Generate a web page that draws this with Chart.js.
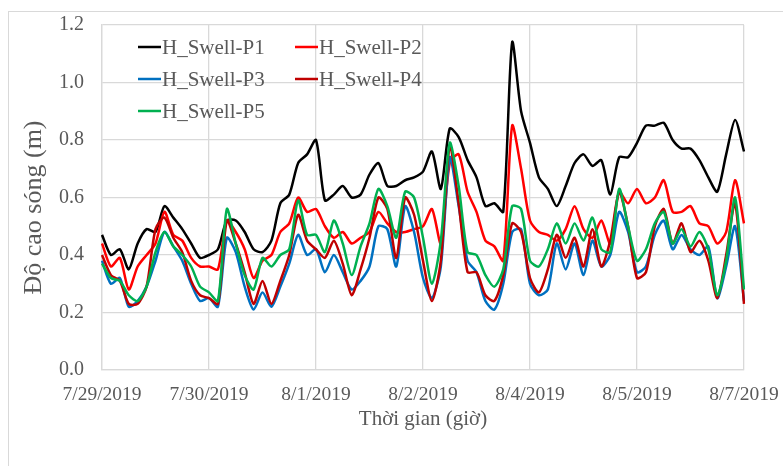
<!DOCTYPE html>
<html><head><meta charset="utf-8">
<script src="https://cdn.jsdelivr.net/npm/chart.js@4.4.1/dist/chart.umd.min.js"></script>
<style>html,body{margin:0;padding:0;background:#fff;}#wrap{position:relative;width:783px;height:466px;}</style>
</head><body><div id="wrap"><canvas id="c" width="783" height="466"></canvas></div>
<script>
// Hourly offsets from 7/29/2019 00:00, sampled every 3 hours
const hours = Array.from({length: 73}, (_, i) => i * 3);
const tickLabels = ['7/29/2019','7/30/2019','8/1/2019','8/2/2019','8/4/2019','8/5/2019','8/7/2019'];
const labelEvery = 12;
const seriesNames = ['H_Swell-P1','H_Swell-P2','H_Swell-P3','H_Swell-P4','H_Swell-P5'];
const seriesColors = ['#000000','#FF0000','#0070C0','#C00000','#00B050'];
const yTitle = 'Độ cao sóng (m)';
const xTitle = 'Thời gian (giờ)';

const P1 = [0.47,0.40,0.42,0.35,0.44,0.49,0.48,0.57,0.53,0.49,0.44,0.39,
 0.40,0.42,0.52,0.52,0.48,0.42,0.41,0.45,0.58,0.61,0.72,0.75,
 0.80,0.59,0.61,0.64,0.60,0.61,0.68,0.72,0.64,0.64,0.66,0.67,
 0.69,0.76,0.63,0.84,0.81,0.73,0.67,0.57,0.58,0.55,1.14,0.90,
 0.79,0.67,0.63,0.57,0.64,0.72,0.75,0.71,0.73,0.61,0.74,0.74,
 0.79,0.85,0.85,0.86,0.80,0.77,0.77,0.73,0.67,0.62,0.75,0.87,
 0.76];
const P2 = [0.44,0.36,0.39,0.28,0.36,0.40,0.44,0.55,0.47,0.45,0.39,0.36,
 0.36,0.35,0.52,0.48,0.42,0.32,0.38,0.40,0.48,0.51,0.60,0.55,
 0.56,0.50,0.46,0.48,0.44,0.46,0.48,0.55,0.51,0.48,0.48,0.49,
 0.50,0.56,0.44,0.72,0.75,0.62,0.55,0.45,0.43,0.38,0.85,0.70,
 0.52,0.48,0.47,0.45,0.49,0.57,0.49,0.46,0.52,0.44,0.62,0.58,
 0.63,0.58,0.60,0.66,0.55,0.55,0.57,0.51,0.50,0.44,0.48,0.66,
 0.51];
const P3 = [0.38,0.30,0.32,0.22,0.24,0.29,0.38,0.48,0.43,0.38,0.30,0.24,
 0.25,0.22,0.46,0.41,0.29,0.21,0.27,0.22,0.29,0.37,0.47,0.40,
 0.42,0.34,0.40,0.34,0.28,0.31,0.36,0.50,0.49,0.36,0.57,0.48,
 0.32,0.25,0.36,0.74,0.57,0.38,0.34,0.24,0.21,0.30,0.48,0.49,
 0.30,0.26,0.28,0.44,0.35,0.44,0.33,0.45,0.36,0.40,0.55,0.48,
 0.34,0.36,0.47,0.52,0.42,0.47,0.42,0.40,0.43,0.25,0.36,0.50,
 0.24];
const P4 = [0.40,0.33,0.31,0.23,0.23,0.29,0.49,0.53,0.46,0.41,0.31,0.26,
 0.25,0.23,0.52,0.44,0.34,0.23,0.31,0.23,0.31,0.40,0.54,0.45,
 0.42,0.39,0.45,0.37,0.26,0.35,0.46,0.60,0.56,0.39,0.60,0.54,
 0.38,0.24,0.38,0.78,0.58,0.34,0.34,0.26,0.24,0.33,0.51,0.48,
 0.32,0.27,0.35,0.47,0.39,0.46,0.36,0.49,0.36,0.45,0.62,0.50,
 0.32,0.34,0.50,0.56,0.44,0.51,0.41,0.45,0.38,0.25,0.40,0.58,
 0.23];
const P5 = [0.37,0.32,0.31,0.26,0.24,0.29,0.41,0.48,0.43,0.40,0.36,0.29,
 0.27,0.24,0.56,0.44,0.33,0.28,0.39,0.36,0.40,0.42,0.59,0.47,
 0.47,0.41,0.52,0.44,0.33,0.43,0.51,0.63,0.57,0.46,0.62,0.60,
 0.46,0.30,0.45,0.79,0.64,0.41,0.40,0.33,0.29,0.35,0.57,0.56,
 0.38,0.36,0.42,0.51,0.44,0.51,0.45,0.53,0.42,0.41,0.63,0.50,
 0.38,0.42,0.51,0.55,0.44,0.49,0.43,0.48,0.42,0.26,0.38,0.60,
 0.28];
const seriesData = [P1, P2, P3, P4, P5];

const FONT = 'Liberation Serif, Times New Roman, serif';
const TXT = '#595959';
const GRID = '#d9d9d9';

const frame = {
  id: 'frame',
  beforeDraw(chart) {
    const c = chart.ctx;
    c.save();
    c.fillStyle = '#fff';
    c.fillRect(0, 0, chart.width, chart.height);
    c.strokeStyle = GRID; c.lineWidth = 1;
    c.strokeRect(8.5, 11.5, 800, 500);
    c.restore();
  },
  afterDraw(chart) {
    const c = chart.ctx, a = chart.chartArea;
    c.save();
    c.translate(34, (a.top + a.bottom) / 2 + 10);
    c.rotate(-Math.PI / 2);
    c.font = '26px ' + FONT;
    c.fillStyle = TXT;
    c.textAlign = 'center';
    c.textBaseline = 'middle';
    c.fillText(yTitle, 0, 0);
    c.restore();
  }
};
const legendBox = {
  id: 'legendBox',
  afterDatasetsDraw(chart) {
    const c = chart.ctx;
    const cols = [138, 295], rows = [47, 79, 111];
    c.save();
    c.font = '21px ' + FONT;
    c.textBaseline = 'middle';
    c.textAlign = 'left';
    chart.data.datasets.forEach((ds, i) => {
      const x = cols[i % 2], y = rows[Math.floor(i / 2)];
      c.strokeStyle = ds.borderColor; c.lineWidth = 2.5;
      c.beginPath(); c.moveTo(x, y); c.lineTo(x + 23, y); c.stroke();
      c.fillStyle = TXT;
      c.fillText(ds.label, x + 24, y + 1);
    });
    c.restore();
  }
};

new Chart(document.getElementById('c'), {
  type: 'line',
  data: {
    labels: hours,
    datasets: seriesNames.map((n, i) => ({
      label: n, data: seriesData[i], borderColor: seriesColors[i], backgroundColor: seriesColors[i],
      borderWidth: 2.5, pointRadius: 0, tension: 0.25, fill: false, order: 4 - i
    }))
  },
  options: {
    responsive: false, animation: false, devicePixelRatio: 1,
    layout: { padding: { left: 0, right: 39, top: 25, bottom: 0 } },
    plugins: { legend: { display: false }, tooltip: { enabled: false } },
    scales: {
      x: {
        type: 'category', offset: false,
        grid: { color: GRID, lineWidth: 1.3, drawTicks: false },
        border: { color: GRID, width: 1.3 },
        ticks: {
          autoSkip: false, maxRotation: 0, minRotation: 0, padding: 13, color: TXT,
          font: { family: FONT, size: 19.5 },
          callback: (v, i) => (i % labelEvery === 0 ? tickLabels[i / labelEvery] : null)
        },
        title: { display: true, text: xTitle, color: TXT, font: { family: FONT, size: 21 }, padding: { top: 1, bottom: 34 } },
        afterFit: s => { s.height = 96; s.paddingLeft = 0; s.paddingRight = 0; }
      },
      y: {
        min: 0, max: 1.2,
        grid: { color: GRID, lineWidth: 1.3, drawTicks: false },
        border: { color: GRID, width: 1.3 },
        ticks: { stepSize: 0.2, padding: 18, color: TXT, font: { family: FONT, size: 20 }, callback: v => Number(v).toFixed(1) },
        afterFit: s => { s.width = 102; s.paddingTop = 0; s.paddingBottom = 0; }
      }
    }
  },
  plugins: [frame, legendBox]
});
</script>
</body></html>
